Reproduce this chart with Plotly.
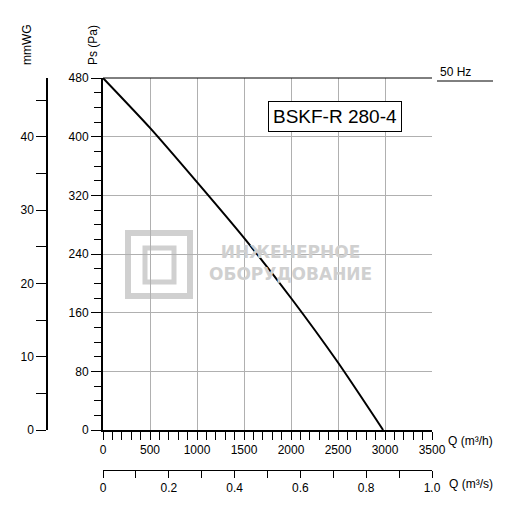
import plotly.graph_objects as go

q_m3h = [0, 500, 1000, 1500, 2000, 2500, 2980]
ps_pa = [480, 412, 338, 262, 180, 92, 0]
pa_ticks = [0, 80, 160, 240, 320, 400, 480]
mmwg_ticks = [0, 10, 20, 30, 40]
q_ticks = [0, 500, 1000, 1500, 2000, 2500, 3000, 3500]
qs_ticks = [0, 0.2, 0.4, 0.6, 0.8, 1.0]

OFF = 8
W, H = 509, 510
def px(x): return (x - OFF) / W
def py(y): return (H - (y - OFF)) / H

fig = go.Figure()
fig.add_trace(go.Scatter(x=q_m3h, y=ps_pa, mode="lines", line=dict(color="black", width=2, shape="spline", smoothing=0.6), showlegend=False, hoverinfo="skip"))
fig.add_trace(go.Scatter(x=[0], y=[0], xaxis="x2", yaxis="y", mode="markers", marker=dict(opacity=0), showlegend=False, hoverinfo="skip"))
fig.add_trace(go.Scatter(x=[0], y=[0], xaxis="x", yaxis="y2", mode="markers", marker=dict(opacity=0), showlegend=False, hoverinfo="skip"))

font = dict(family="Liberation Sans, Arial", size=12, color="black")
fig.update_layout(
    template="none",
    width=W, height=H, margin=dict(l=0, r=0, t=0, b=0, autoexpand=False),
    plot_bgcolor="white", paper_bgcolor="white", font=font,
    xaxis=dict(domain=[px(103), px(432)], range=[0, 3500], tickvals=q_ticks, showgrid=True, gridcolor="#b0b0b0", gridwidth=1,
               showline=True, linecolor="black", linewidth=1.5, ticks="outside", ticklen=8, tickcolor="black", automargin=False,
               minor=dict(dtick=100, ticks="outside", ticklen=8, tickcolor="black", showgrid=False), zeroline=False, anchor="y"),
    yaxis=dict(domain=[py(430), py(78)], range=[0, 480], tickvals=pa_ticks, showgrid=True, gridcolor="#b0b0b0", automargin=False,
               showline=True, linecolor="black", linewidth=2, ticks="outside", ticklen=10, tickcolor="black",
               minor=dict(dtick=20, ticks="outside", ticklen=7, tickcolor="black", showgrid=False), zeroline=False, anchor="x"),
    xaxis2=dict(overlaying="x", anchor="free", position=py(470), domain=[px(103), px(432)], range=[0, 1.0], tickvals=qs_ticks,
                ticktext=["0", "0.2", "0.4", "0.6", "0.8", "1.0"], showgrid=False, showline=True, linecolor="black", linewidth=1,
                automargin=False,
                ticks="outside", ticklen=7, tickcolor="black", minor=dict(dtick=0.1, ticks="outside", ticklen=7, tickcolor="black"), zeroline=False),
    yaxis2=dict(overlaying="y", anchor="free", position=px(47), side="left", range=[0, 48], tickvals=mmwg_ticks, automargin=False,
                showgrid=False, showline=True, linecolor="black", linewidth=1.5, ticks="outside", ticklen=10, tickcolor="black",
                minor=dict(dtick=5, ticks="outside", ticklen=10, tickcolor="black"), zeroline=False),
)
fig.add_shape(type="line", xref="paper", yref="paper", x0=px(103), x1=px(432), y0=py(78), y1=py(78), line=dict(color="black", width=1))
fig.add_shape(type="line", xref="paper", yref="paper", x0=px(437), x1=px(493), y0=py(81), y1=py(81), line=dict(color="black", width=1))
fig.add_shape(type="rect", xref="paper", yref="paper", x0=px(128), x1=px(190), y0=py(296), y1=py(233), line=dict(color="#d0d0d0", width=6), layer="below")
fig.add_shape(type="rect", xref="paper", yref="paper", x0=px(145), x1=px(174), y0=py(282), y1=py(248), line=dict(color="#d0d0d0", width=5), layer="below")
fig.add_annotation(xref="paper", yref="paper", x=px(290), y=py(263), text="<b>ИНЖЕНЕРНОЕ<br>ОБОРУДОВАНИЕ</b>", showarrow=False,
                   xanchor="center", yanchor="middle", font=dict(family="DejaVu Sans", size=17, color="#d0d0d0"))
ann = [
    dict(x=px(27), y=py(45), text="mmWG", textangle=-90),
    dict(x=px(93), y=py(45), text="Ps (Pa)", textangle=-90),
    dict(x=px(455), y=py(72), text="50 Hz"),
    dict(x=px(470), y=py(441), text="Q (m³/h)"),
    dict(x=px(471), y=py(484), text="Q (m³/s)"),
]
for a in ann:
    fig.add_annotation(xref="paper", yref="paper", showarrow=False, font=font, xanchor="center", yanchor="middle", **a)
fig.add_annotation(xref="paper", yref="paper", x=px(335), y=py(116), text="BSKF-R 280-4", showarrow=False,
                   xanchor="center", yanchor="middle",
                   font=dict(family="Liberation Sans, Arial", size=19, color="black"), bordercolor="black", borderwidth=1,
                   borderpad=4, bgcolor="white")
fig.write_html("out.html")
